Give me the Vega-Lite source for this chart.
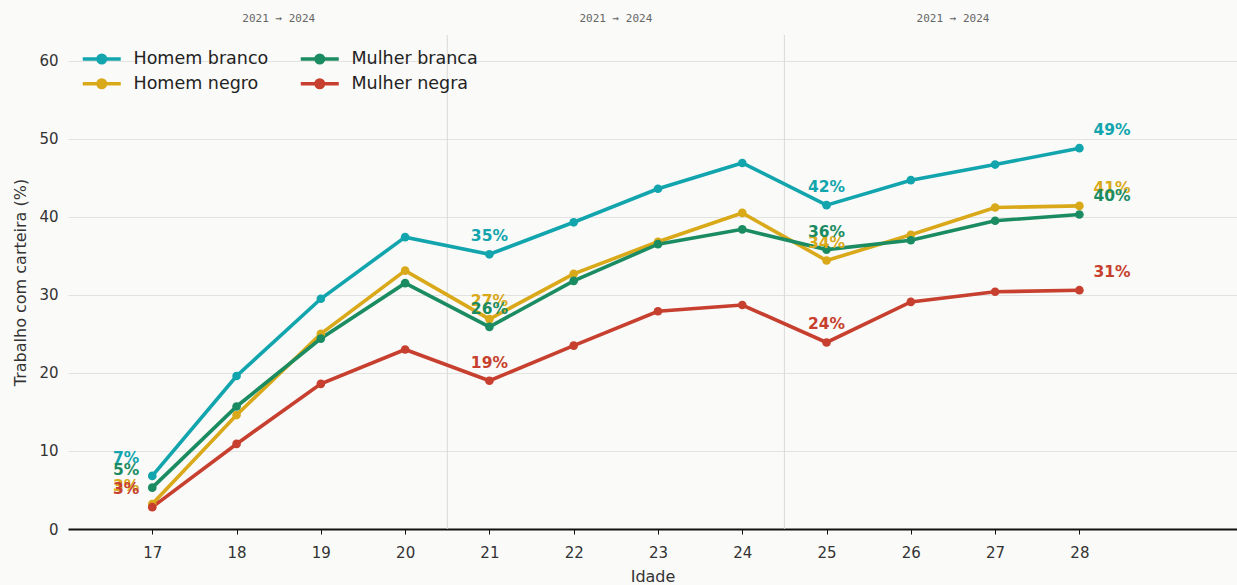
{
  "$schema": "https://vega.github.io/schema/vega-lite/v6.json",
  "width": 1169,
  "height": 494,
  "autosize": {"type": "none"},
  "padding": {"left": 68, "top": 35, "right": 0, "bottom": 56},
  "background": "#fafaf8",
  "config": {
    "view": {"stroke": null},
    "font": "DejaVu Sans",
    "axis": {"labelFont": "DejaVu Sans", "titleFont": "DejaVu Sans", "labelColor": "#333333", "titleColor": "#333333", "titleFontWeight": "normal"}
  },
  "datasets": {
    "serie": [
      {"idade": 17, "grupo": "Homem branco", "pct": 6.8, "rotulo": "7%"},
      {"idade": 18, "grupo": "Homem branco", "pct": 19.6},
      {"idade": 19, "grupo": "Homem branco", "pct": 29.5},
      {"idade": 20, "grupo": "Homem branco", "pct": 37.4},
      {"idade": 21, "grupo": "Homem branco", "pct": 35.2, "rotulo": "35%"},
      {"idade": 22, "grupo": "Homem branco", "pct": 39.3},
      {"idade": 23, "grupo": "Homem branco", "pct": 43.6},
      {"idade": 24, "grupo": "Homem branco", "pct": 46.9},
      {"idade": 25, "grupo": "Homem branco", "pct": 41.5, "rotulo": "42%"},
      {"idade": 26, "grupo": "Homem branco", "pct": 44.7},
      {"idade": 27, "grupo": "Homem branco", "pct": 46.7},
      {"idade": 28, "grupo": "Homem branco", "pct": 48.8, "rotulo": "49%"},
      {"idade": 17, "grupo": "Homem negro", "pct": 3.2, "rotulo": "3%"},
      {"idade": 18, "grupo": "Homem negro", "pct": 14.6},
      {"idade": 19, "grupo": "Homem negro", "pct": 25.0},
      {"idade": 20, "grupo": "Homem negro", "pct": 33.1},
      {"idade": 21, "grupo": "Homem negro", "pct": 26.9, "rotulo": "27%"},
      {"idade": 22, "grupo": "Homem negro", "pct": 32.7},
      {"idade": 23, "grupo": "Homem negro", "pct": 36.8},
      {"idade": 24, "grupo": "Homem negro", "pct": 40.5},
      {"idade": 25, "grupo": "Homem negro", "pct": 34.4, "rotulo": "34%"},
      {"idade": 26, "grupo": "Homem negro", "pct": 37.7},
      {"idade": 27, "grupo": "Homem negro", "pct": 41.2},
      {"idade": 28, "grupo": "Homem negro", "pct": 41.4, "rotulo": "41%"},
      {"idade": 17, "grupo": "Mulher branca", "pct": 5.3, "rotulo": "5%"},
      {"idade": 18, "grupo": "Mulher branca", "pct": 15.7},
      {"idade": 19, "grupo": "Mulher branca", "pct": 24.4},
      {"idade": 20, "grupo": "Mulher branca", "pct": 31.5},
      {"idade": 21, "grupo": "Mulher branca", "pct": 25.9, "rotulo": "26%"},
      {"idade": 22, "grupo": "Mulher branca", "pct": 31.8},
      {"idade": 23, "grupo": "Mulher branca", "pct": 36.5},
      {"idade": 24, "grupo": "Mulher branca", "pct": 38.4},
      {"idade": 25, "grupo": "Mulher branca", "pct": 35.8, "rotulo": "36%"},
      {"idade": 26, "grupo": "Mulher branca", "pct": 37.0},
      {"idade": 27, "grupo": "Mulher branca", "pct": 39.5},
      {"idade": 28, "grupo": "Mulher branca", "pct": 40.3, "rotulo": "40%"},
      {"idade": 17, "grupo": "Mulher negra", "pct": 2.8, "rotulo": "3%"},
      {"idade": 18, "grupo": "Mulher negra", "pct": 10.9},
      {"idade": 19, "grupo": "Mulher negra", "pct": 18.6},
      {"idade": 20, "grupo": "Mulher negra", "pct": 23.0},
      {"idade": 21, "grupo": "Mulher negra", "pct": 19.0, "rotulo": "19%"},
      {"idade": 22, "grupo": "Mulher negra", "pct": 23.5},
      {"idade": 23, "grupo": "Mulher negra", "pct": 27.9},
      {"idade": 24, "grupo": "Mulher negra", "pct": 28.7},
      {"idade": 25, "grupo": "Mulher negra", "pct": 23.9, "rotulo": "24%"},
      {"idade": 26, "grupo": "Mulher negra", "pct": 29.1},
      {"idade": 27, "grupo": "Mulher negra", "pct": 30.4},
      {"idade": 28, "grupo": "Mulher negra", "pct": 30.6, "rotulo": "31%"}
    ],
    "separadores": [{"idade": 20.5}, {"idade": 24.5}],
    "periodos": [
      {"idade": 18.5, "texto": "2021 → 2024"},
      {"idade": 22.5, "texto": "2021 → 2024"},
      {"idade": 26.5, "texto": "2021 → 2024"}
    ]
  },
  "layer": [
    {
      "data": {"name": "separadores"},
      "mark": {"type": "rule", "color": "#d9d9d9", "strokeWidth": 1},
      "encoding": {
        "x": {"field": "idade", "type": "quantitative", "scale": {"domain": [16, 29.87], "nice": false, "zero": false}}
      }
    },
    {
      "data": {"name": "periodos"},
      "mark": {"type": "text", "font": "DejaVu Sans Mono", "fontSize": 11, "color": "#666666", "baseline": "middle", "align": "center"},
      "encoding": {
        "x": {"field": "idade", "type": "quantitative"},
        "y": {"datum": 65.4, "type": "quantitative"},
        "text": {"field": "texto"}
      }
    },
    {
      "data": {"name": "serie"},
      "encoding": {
        "x": {
          "field": "idade", "type": "quantitative",
          "scale": {"domain": [16, 29.87], "nice": false, "zero": false},
          "axis": {
            "title": "Idade", "values": [17, 18, 19, 20, 21, 22, 23, 24, 25, 26, 27, 28],
            "grid": false, "domainColor": "#111111", "domainWidth": 2, "tickColor": "#111111", "tickSize": 5, "tickWidth": 1,
            "labelFontSize": 15, "labelPadding": 11, "titleFontSize": 16, "titlePadding": 8, "format": "d"
          }
        },
        "y": {
          "field": "pct", "type": "quantitative",
          "scale": {"domain": [0, 63.3], "nice": false},
          "axis": {
            "title": "Trabalho com carteira (%)", "values": [0, 10, 20, 30, 40, 50, 60],
            "grid": true, "gridColor": "#e2e2e2", "gridWidth": 1, "domain": false, "ticks": false,
            "labelFontSize": 15, "labelPadding": 10, "titleFontSize": 16, "titlePadding": 10
          }
        },
        "color": {
          "field": "grupo", "type": "nominal",
          "scale": {"domain": ["Homem branco", "Homem negro", "Mulher branca", "Mulher negra"], "range": ["#12a5ae", "#d9a91a", "#1b8c62", "#c73f2e"]},
          "legend": {
            "title": null, "orient": "none", "legendX": 25, "legendY": 15, "columns": 2, "direction": "vertical",
            "symbolType": "M-3.8,0H3.8M-0.75,0A0.75,0.75,0,1,0,0.75,0A0.75,0.75,0,1,0,-0.75,0",
            "symbolSize": 100, "symbolStrokeWidth": 3.5, "labelFontSize": 17.5, "labelColor": "#222222",
            "labelOffset": 23, "columnPadding": 24, "rowPadding": 3, "labelFont": "DejaVu Sans"
          }
        }
      },
      "layer": [
        {"mark": {"type": "line", "strokeWidth": 3.6}},
        {"mark": {"type": "point", "filled": true, "size": 75, "opacity": 1}},
        {
          "transform": [{"filter": "datum.idade == 17 && isValid(datum.rotulo)"}],
          "mark": {"type": "text", "fontWeight": "bold", "fontSize": 15.5, "align": "right", "baseline": "middle", "dx": -13, "dy": -18},
          "encoding": {"text": {"field": "rotulo"}}
        },
        {
          "transform": [{"filter": "(datum.idade == 21 || datum.idade == 25) && isValid(datum.rotulo)"}],
          "mark": {"type": "text", "fontWeight": "bold", "fontSize": 15.5, "align": "center", "baseline": "middle", "dy": -18},
          "encoding": {"text": {"field": "rotulo"}}
        },
        {
          "transform": [{"filter": "datum.idade == 28 && isValid(datum.rotulo)"}],
          "mark": {"type": "text", "fontWeight": "bold", "fontSize": 15.5, "align": "left", "baseline": "middle", "dx": 14, "dy": -18},
          "encoding": {"text": {"field": "rotulo"}}
        }
      ]
    }
  ]
}
